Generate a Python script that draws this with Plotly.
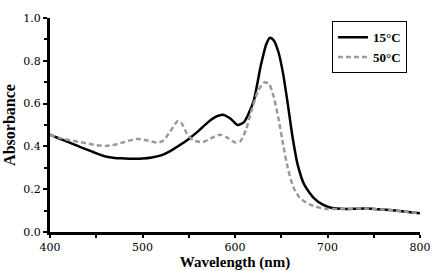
import plotly.graph_objects as go

wl_15 = [400, 410, 420, 430, 440, 450, 460, 470, 480, 490, 500, 510, 520, 530, 540, 550, 560, 570, 580, 587, 595, 603, 610, 620, 628, 634, 638, 642, 647, 652, 657, 662, 668, 675, 685, 695, 705, 720, 740, 760, 780, 800]
abs_15 = [0.455, 0.437, 0.420, 0.402, 0.385, 0.368, 0.353, 0.346, 0.344, 0.342, 0.343, 0.348, 0.358, 0.378, 0.405, 0.435, 0.470, 0.510, 0.540, 0.548, 0.530, 0.500, 0.515, 0.610, 0.780, 0.880, 0.908, 0.895, 0.840, 0.740, 0.600, 0.450, 0.310, 0.220, 0.160, 0.128, 0.112, 0.108, 0.110, 0.105, 0.097, 0.088]

wl_50 = [400, 410, 420, 430, 440, 450, 460, 470, 480, 490, 495, 505, 515, 522, 530, 538, 542, 548, 555, 565, 575, 584, 592, 600, 606, 612, 618, 625, 632, 637, 642, 647, 652, 657, 663, 670, 680, 690, 700, 720, 740, 760, 780, 800]
abs_50 = [0.455, 0.440, 0.430, 0.422, 0.414, 0.406, 0.402, 0.408, 0.420, 0.432, 0.435, 0.428, 0.418, 0.425, 0.470, 0.518, 0.510, 0.460, 0.428, 0.420, 0.440, 0.455, 0.440, 0.418, 0.425, 0.480, 0.570, 0.660, 0.700, 0.690, 0.630, 0.530, 0.410, 0.300, 0.210, 0.160, 0.130, 0.115, 0.108, 0.108, 0.110, 0.105, 0.097, 0.088]

x_ticks = [400, 500, 600, 700, 800]
y_ticks = [0.0, 0.2, 0.4, 0.6, 0.8, 1.0]
y_tick_labels = ["0.0", "0.2", "0.4", "0.6", "0.8", "1.0"]

fig = go.Figure()
fig.add_trace(go.Scatter(x=wl_15, y=abs_15, mode="lines", name="<b>15°C</b>",
                         line=dict(color="black", width=2.5, shape="spline", smoothing=0.6)))
fig.add_trace(go.Scatter(x=wl_50, y=abs_50, mode="lines", name="<b>50°C</b>",
                         line=dict(color="#9a9a9a", width=2.5, dash="5px,3px", shape="spline", smoothing=0.6)))

fig.update_layout(
    template="none",
    width=435, height=271,
    margin=dict(l=50, r=15, t=18, b=39, autoexpand=False),
    plot_bgcolor="white", paper_bgcolor="white",
    showlegend=True,
    legend=dict(x=0.762, y=0.985, xanchor="left", yanchor="top",
                bordercolor="black", borderwidth=1, bgcolor="white",
                font=dict(family="Liberation Serif", size=13, color="black"),
                tracegroupgap=0, itemwidth=30),
    font=dict(family="DejaVu Serif", color="black"),
)
fig.update_xaxes(range=[400, 800], tickvals=x_ticks, ticktext=[str(v) for v in x_ticks],
                 automargin=False,
                 showline=True, linecolor="black", linewidth=3, mirror=False,
                 ticks="outside", ticklen=3, tickwidth=2, tickcolor="black",
                 minor=dict(ticks="outside", dtick=50, ticklen=3, tickwidth=2, tickcolor="black"),
                 showgrid=False, zeroline=False,
                 tickfont=dict(family="DejaVu Serif", size=11, color="black"),
                 title=dict(text="<b>Wavelength (nm)</b>", standoff=5,
                            font=dict(family="Liberation Serif", size=15, color="black")))
fig.update_yaxes(range=[0, 1.0], tickvals=y_ticks, ticktext=y_tick_labels,
                 automargin=False,
                 showline=True, linecolor="black", linewidth=3, mirror=False,
                 ticks="outside", ticklen=4, tickwidth=2, tickcolor="black",
                 minor=dict(ticks="outside", dtick=0.1, ticklen=3, tickwidth=2, tickcolor="black"),
                 showgrid=False, zeroline=False,
                 tickfont=dict(family="DejaVu Serif", size=11, color="black"),
                 title=dict(text="<b>Absorbance</b>", standoff=4,
                            font=dict(family="Liberation Serif", size=16, color="black")))
fig.write_html("out.html", config={"displayModeBar": False},
               post_script="document.body.style.margin='0';document.body.style.overflow='hidden';")
